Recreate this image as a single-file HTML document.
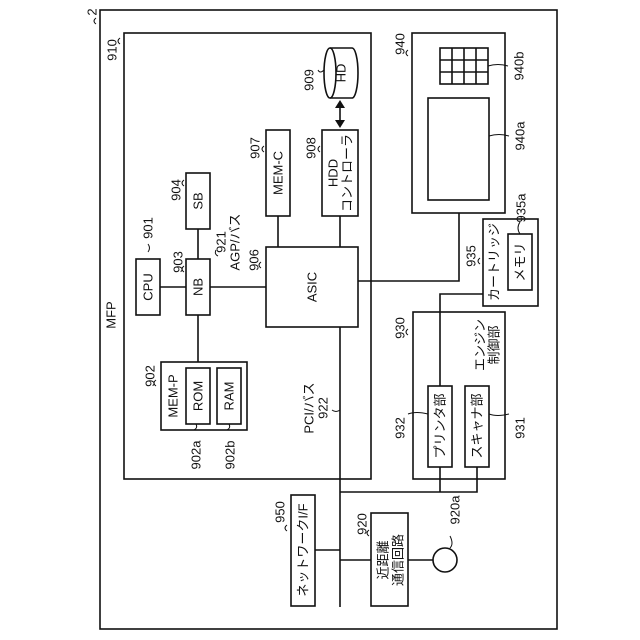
<!DOCTYPE html>
<html><head><meta charset="utf-8"><style>
html,body{margin:0;padding:0;background:#fff;}
svg{display:block;}
text{font-family:"Liberation Sans","Noto Sans CJK JP",sans-serif;font-size:13px;fill:#111;}
</style></head><body>
<svg width="640" height="640" viewBox="0 0 640 640" xmlns="http://www.w3.org/2000/svg">
<g fill="none" stroke="#111" stroke-width="1.6">
<rect x="100" y="10" width="457" height="619"/>
<rect x="124" y="33" width="247" height="446"/>
<path d="M330 48 L352 48 A6 25 0 0 1 352 98 L330 98"/>
<ellipse cx="330" cy="73" rx="6" ry="25"/>
<line x1="340" y1="106" x2="340" y2="122"/>
<rect x="322" y="130" width="36" height="86"/>
<rect x="266" y="130" width="24" height="86"/>
<rect x="266" y="247" width="92" height="80"/>
<rect x="186" y="173" width="24" height="56"/>
<rect x="136" y="259" width="24" height="56"/>
<rect x="186" y="259" width="24" height="56"/>
<rect x="161" y="362" width="86" height="68"/>
<rect x="186" y="368" width="24" height="56"/>
<rect x="217" y="368" width="24" height="56"/>
<line x1="160" y1="287" x2="186" y2="287"/>
<line x1="210" y1="287" x2="266" y2="287"/>
<line x1="198" y1="229" x2="198" y2="259"/>
<line x1="198" y1="315" x2="198" y2="362"/>
<line x1="278" y1="216" x2="278" y2="247"/>
<line x1="340" y1="216" x2="340" y2="247"/>
<polyline points="358,281 459,281 459,213"/>
<rect x="412" y="33" width="93" height="180"/>
<rect x="428" y="98" width="61" height="102"/>
<rect x="440" y="48" width="48" height="36"/>
<line x1="452" y1="48" x2="452" y2="84"/><line x1="464" y1="48" x2="464" y2="84"/><line x1="476" y1="48" x2="476" y2="84"/>
<line x1="440" y1="60" x2="488" y2="60"/><line x1="440" y1="72" x2="488" y2="72"/>
<rect x="483" y="219" width="55" height="87"/>
<rect x="508" y="234" width="24" height="56"/>
<rect x="413" y="312" width="92" height="167"/>
<rect x="428" y="386" width="24" height="81"/>
<rect x="465" y="386" width="24" height="81"/>
<polyline points="440,386 440,294 483,294"/>
<line x1="340" y1="327" x2="340" y2="607"/>
<polyline points="340,492 477,492 477,467"/>
<line x1="440" y1="467" x2="440" y2="492"/>
<rect x="291" y="495" width="24" height="111"/>
<line x1="315" y1="550" x2="340" y2="550"/>
<rect x="371" y="513" width="37" height="93"/>
<line x1="340" y1="560" x2="371" y2="560"/>
<line x1="408" y1="560" x2="433" y2="560"/>
<circle cx="445" cy="560" r="12"/>
</g>
<g fill="#111">
<polygon points="340,100 335,108 345,108"/>
<polygon points="340,128 335,120 345,120"/>
</g>
<g fill="none" stroke="#111" stroke-width="1">
<path d="M96 18 q-4 3 0 6"/><path d="M120 38 q-4 3 0 6"/><path d="M318 70 q2 4 6 0"/>
<path d="M264 146 q-4 3 0 6"/><path d="M320 146 q-4 3 0 6"/><path d="M184 180 q-4 3 0 6"/>
<path d="M148 244 q3 4 0 8"/><path d="M184 266 q-4 3 0 6"/><path d="M216 250 q-2 4 2 6"/><path d="M261 262 q-4 3 0 6"/>
<path d="M156 380 q-4 3 0 6"/><path d="M196 424 q2 4 -2 6"/><path d="M229 424 q2 4 -2 6"/>
<path d="M340 410 q-4 3 -8 0"/><path d="M287 525 q-4 3 0 6"/><path d="M369 530 q-4 3 0 6"/>
<path d="M408 414 q8 -3 20 0"/><path d="M489 414 q8 3 20 0"/><path d="M408 329 q-4 3 0 6"/>
<path d="M480 258 q-4 3 0 6"/><path d="M520 234 q-4 -6 0 -12"/><path d="M408 50 q-4 3 0 6"/>
<path d="M488 66 q10 -3 20 0"/><path d="M489 136 q10 -3 20 0"/><path d="M450 548 q4 -4 0 -12"/>
</g>
<g text-anchor="middle" dominant-baseline="central">
<text transform="translate(92,12) rotate(-90)">2</text>
<text transform="translate(112,50) rotate(-90)">910</text>
<text transform="translate(111,315) rotate(-90)">MFP</text>
<text transform="translate(341,73) rotate(-90)">HD</text>
<text transform="translate(309,80) rotate(-90)">909</text>
<text transform="translate(255,148) rotate(-90)">907</text>
<text transform="translate(278,173) rotate(-90)">MEM-C</text>
<text transform="translate(311,148) rotate(-90)">908</text>
<text transform="translate(333,173) rotate(-90)">HDD</text>
<text transform="translate(347,173) rotate(-90)">コントローラ</text>
<text transform="translate(176,190) rotate(-90)">904</text>
<text transform="translate(198,201) rotate(-90)">SB</text>
<text transform="translate(148,228) rotate(-90)">901</text>
<text transform="translate(148,287) rotate(-90)">CPU</text>
<text transform="translate(178,262) rotate(-90)">903</text>
<text transform="translate(198,287) rotate(-90)">NB</text>
<text transform="translate(221,242) rotate(-90)">921</text>
<text transform="translate(235,242) rotate(-90)">AGP/バス</text>
<text transform="translate(254,260) rotate(-90)">906</text>
<text transform="translate(312,287) rotate(-90)">ASIC</text>
<text transform="translate(150,376) rotate(-90)">902</text>
<text transform="translate(173,396) rotate(-90)">MEM-P</text>
<text transform="translate(198,396) rotate(-90)">ROM</text>
<text transform="translate(229,396) rotate(-90)">RAM</text>
<text transform="translate(196,455) rotate(-90)">902a</text>
<text transform="translate(230,455) rotate(-90)">902b</text>
<text transform="translate(309,408) rotate(-90)">PCI/バス</text>
<text transform="translate(323,408) rotate(-90)">922</text>
<text transform="translate(280,512) rotate(-90)">950</text>
<text transform="translate(303,550) rotate(-90)">ネットワークI/F</text>
<text transform="translate(362,524) rotate(-90)">920</text>
<text transform="translate(383,560) rotate(-90)">近距離</text>
<text transform="translate(398,560) rotate(-90)">通信回路</text>
<text transform="translate(455,510) rotate(-90)">920a</text>
<text transform="translate(400,428) rotate(-90)">932</text>
<text transform="translate(440,426) rotate(-90)">プリンタ部</text>
<text transform="translate(477,426) rotate(-90)">スキャナ部</text>
<text transform="translate(520,428) rotate(-90)">931</text>
<text transform="translate(400,328) rotate(-90)">930</text>
<text transform="translate(480,345) rotate(-90)">エンジン</text>
<text transform="translate(494,345) rotate(-90)">制御部</text>
<text transform="translate(471,256) rotate(-90)">935</text>
<text transform="translate(494,262) rotate(-90)">カートリッジ</text>
<text transform="translate(520,262) rotate(-90)">メモリ</text>
<text transform="translate(521,208) rotate(-90)">935a</text>
<text transform="translate(400,44) rotate(-90)">940</text>
<text transform="translate(519,66) rotate(-90)">940b</text>
<text transform="translate(520,136) rotate(-90)">940a</text>
</g>
</svg>
</body></html>
